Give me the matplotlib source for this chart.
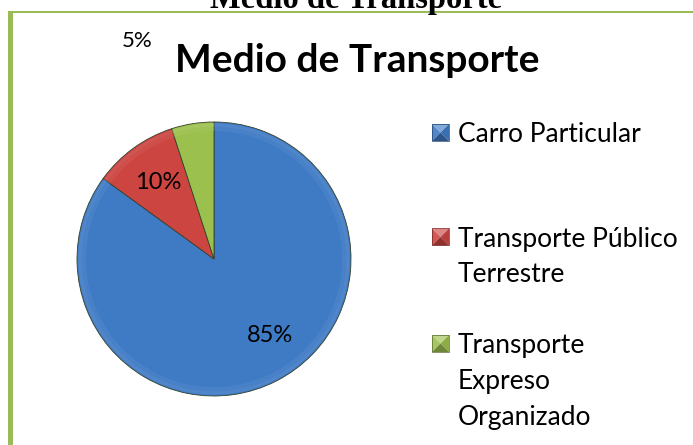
import matplotlib.pyplot as plt
from matplotlib.colors import to_rgb
from matplotlib.patches import Rectangle, Polygon

# data
categories = ["Carro Particular", "Transporte Público Terrestre", "Transporte Expreso Organizado"]
legend_labels = ["Carro Particular", "Transporte Público\nTerrestre", "Transporte\nExpreso\nOrganizado"]
shares = [85, 10, 5]
colors = ["#3F7BC4", "#CC4541", "#9CC04E"]

W, H = 693, 445
fig = plt.figure(figsize=(W / 100, H / 100), dpi=100)
fig.patch.set_facecolor("white")


def fx(px):
    return px / W


def fy(py):
    return 1 - py / H


def shade(col, k):
    r, g, b = to_rgb(col)
    if k >= 0:
        return (r + (1 - r) * k, g + (1 - g) * k, b + (1 - b) * k)
    return (r * (1 + k), g * (1 + k), b * (1 + k))


# green frame of the chart area (clipped by the page)
green = "#9BBB59"
fig.patches.append(Rectangle((fx(8), 0), fx(5), fy(11), transform=fig.transFigure,
                             facecolor=green, edgecolor="none"))
fig.patches.append(Rectangle((fx(8), fy(13)), 1 - fx(8), 2 / H, transform=fig.transFigure,
                             facecolor=green, edgecolor="none"))

# caption of the document, cut by the top edge as in the source
fig.text(0.514, fy(8), "Medio de Transporte", family="Liberation Serif", weight="bold",
         fontsize=23.5, ha="center", va="baseline")

fig.text(fx(357), fy(72), "Medio de Transporte", family="Lato", weight="bold",
         fontsize=28, ha="center", va="baseline")

# pie: center (214, 259), radius 137 px
cx, cy, r = 214, 259, 137
pad = 1.05
ax = fig.add_axes([fx(cx - r * pad), (H - cy - r * pad) / H,
                   2 * r * pad / W, 2 * r * pad / H])
wedges, texts, autotexts = ax.pie(
    shares, colors=colors, startangle=90, counterclock=False,
    autopct="%d%%", pctdistance=0.69,
    wedgeprops=dict(edgecolor="#33402a", linewidth=0.6),
    textprops=dict(family="Lato", fontsize=17, color="black"),
)
# soft bevel along the rim
for rad, w, a in [(0.99, 0.025, 0.45), (0.965, 0.03, 0.25)]:
    ax.pie(shares, colors=[shade(c, 0.2) for c in colors], startangle=90,
           counterclock=False, radius=rad,
           wedgeprops=dict(width=w, edgecolor="none", alpha=a))
ax.set_xlim(-pad, pad)
ax.set_ylim(-pad, pad)
ax.set_aspect("equal")
ax.axis("off")

# label spots as Excel placed them
autotexts[0].set_position((0.41, -0.555))
small = autotexts[2]
small.set_transform(fig.transFigure)
small.set_position((fx(137), fy(41)))
small.set_fontsize(16)

# legend drawn by hand to follow Excel's spacing
first_baseline = [142, 246.5, 353]
line_step = 36
box = 17
for lab, col, base in zip(legend_labels, colors, first_baseline):
    x0, y0 = 432, base - 18
    x1, y1 = x0 + box, y0 + box
    xm, ym = x0 + box / 2, y0 + box / 2
    tri = {
        "top": ([(x0, y0), (x1, y0), (xm, ym)], 0.35),
        "left": ([(x0, y0), (x0, y1), (xm, ym)], 0.1),
        "right": ([(x1, y0), (x1, y1), (xm, ym)], -0.1),
        "bottom": ([(x0, y1), (x1, y1), (xm, ym)], -0.3),
    }
    for pts, k in tri.values():
        fig.patches.append(Polygon([(fx(a), fy(b)) for a, b in pts], closed=True,
                                   transform=fig.transFigure, facecolor=shade(col, k),
                                   edgecolor="none"))
    fig.patches.append(Rectangle((fx(x0), fy(y1)), box / W, box / H,
                                 transform=fig.transFigure, facecolor="none",
                                 edgecolor=shade(col, -0.45), linewidth=0.5))
    for i, line in enumerate(lab.split("\n")):
        fig.text(fx(458), fy(base + i * line_step), line, family="Lato", fontsize=19,
                 ha="left", va="baseline")

fig.savefig("out.png", dpi=100)
